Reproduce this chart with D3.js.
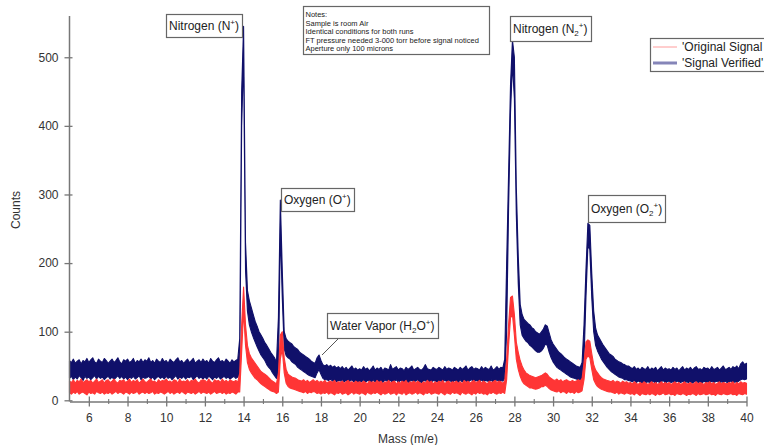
<!DOCTYPE html>
<html><head><meta charset="utf-8">
<script src="https://cdn.jsdelivr.net/npm/d3@7"></script>
<style>
html,body{margin:0;padding:0;background:#fff;}
svg{display:block;font-family:"Liberation Sans",Arial,sans-serif;}
</style></head><body>
<svg id="chart" width="764" height="445"></svg>
<script>
// ---------- DATA (counts per 0.1 m/e from 5.0 to 40.0) ----------
const massStart = 5.0, massStep = 0.1;

// 'Signal Verified' (navy) : lower / upper edge of the noisy trace
const verifiedLow = [
 32,35,30,34,31,36,33,29,35,32, 34,30,33,36,31,35,32,34,30,33, 35,31,34,30,33,36,32,35,31,34,
 30,34,32,35,31,33,36,30,34,32, 33,35,31,34,30,33,35,32,34,31, 35,32,34,30,33,36,31,34,32,35,
 31,34,33,35,30,33,36,32,34,31, 34,31,35,33,30,34,32,35,31,33, 35,32,34,31,33,35,32,34,38,400,
 500,190,130,110,100,92,85,78,72,66, 62,58,52,48,45,40,36,32,35,250, 150,75,65,62,60,56,54,52,48,46,
 44,42,40,38,36,35,34,33,40,45, 38,32,30,30,29,31,28,30,27,29, 28,30,27,29,26,28,30,27,29,26,
 28,27,30,26,29,28,26,30,27,29, 27,29,26,30,28,27,29,26,28,30, 26,29,28,27,30,26,28,29,27,28,
 30,27,26,29,28,30,27,26,29,28, 27,29,28,26,30,27,29,28,26,29, 28,26,30,27,29,28,26,29,30,27,
 29,28,26,30,27,29,28,27,30,26, 28,30,27,29,28,32,100,280,420,490, 440,270,170,110,95,90,86,84,80,78,
 75,72,70,70,72,76,82,80,70,62, 56,52,48,46,44,42,40,38,36,34, 33,32,31,30,30,32,60,150,225,220,
 150,100,80,72,66,60,56,52,48,45, 42,40,38,36,34,33,32,30,30,29, 28,27,29,26,28,27,25,28,26,27,
 26,28,27,25,28,26,27,29,25,27, 28,26,27,25,28,27,26,28,25,27, 26,28,25,27,28,26,27,25,28,26,
 27,25,28,26,27,28,25,27,26,28, 26,27,28,25,27,26,28,30,31,30, 31
];
const verifiedHigh = [
 58,55,60,54,57,59,53,58,56,61, 55,59,62,56,54,60,57,55,61,58, 54,57,60,55,58,62,56,53,59,57,
 60,55,57,61,54,58,56,60,55,59, 57,62,55,58,54,60,57,55,61,56, 58,54,60,57,55,59,62,56,58,54,
 57,60,55,58,61,54,57,59,55,60, 56,58,54,61,57,55,59,62,56,58, 55,60,57,54,59,56,58,60,90,450,
 545,230,160,145,135,125,115,108,100,95, 90,84,80,75,70,66,62,55,120,292, 190,100,90,86,84,82,78,76,74,70,
 68,66,64,62,60,57,55,54,62,66, 58,52,50,52,49,51,48,50,47,49, 46,49,45,48,44,47,50,45,47,44,
 46,44,49,45,47,43,46,50,44,47, 45,48,43,47,46,44,52,45,47,49, 44,47,46,43,48,45,47,50,44,46,
 48,45,44,47,52,46,45,44,48,46, 45,48,46,44,49,45,47,46,44,48, 46,44,48,45,47,50,44,47,49,45,
 47,46,44,49,45,48,46,45,50,44, 46,49,45,48,47,60,200,330,460,525, 500,310,210,140,125,118,115,112,110,106,
 104,100,98,96,100,104,110,108,98,88, 82,78,74,70,68,65,62,60,58,56, 54,52,50,49,48,55,110,190,258,255,
 185,130,105,95,90,85,80,76,72,68, 66,64,60,58,56,55,53,52,50,50, 48,46,49,45,47,44,48,46,45,49,
 44,47,45,48,43,46,49,44,47,45, 46,44,48,45,47,43,46,49,44,47, 45,48,44,47,49,45,46,44,48,46,
 47,44,49,45,46,48,44,47,50,45, 46,48,45,49,47,50,46,53,56,52, 54
];

// 'Original Signal' (red) : lower / upper edge of the noisy trace
const originalLow = [
 11,9,12,10,13,9,11,12,10,8, 12,10,11,9,13,11,10,12,9,11, 10,12,9,11,13,10,12,11,9,12,
 11,9,12,10,11,13,9,11,12,10, 12,10,11,13,9,11,10,12,11,9, 11,13,10,12,9,11,12,10,13,11,
 9,12,11,10,12,9,11,13,10,12, 11,10,12,9,11,13,10,11,12,10, 12,9,11,10,12,11,9,12,12,70,
 130,80,55,45,40,36,32,30,27,24, 22,20,18,16,14,13,12,10,12,60, 75,40,25,20,18,17,16,15,14,13,
 12,11,13,10,12,11,13,12,10,11, 9,11,10,12,9,11,10,8,11,10, 12,9,10,11,8,10,12,9,11,10,
 9,11,10,8,12,10,9,11,10,12, 10,8,11,9,10,12,9,10,11,8, 11,10,9,12,8,10,11,9,10,12,
 9,11,10,8,11,10,12,9,10,11, 10,9,12,10,8,11,10,9,12,10, 11,10,8,12,10,9,11,10,8,11,
 9,12,10,11,9,10,8,11,10,12, 10,9,11,10,12,10,30,80,120,125, 95,60,45,35,28,24,22,20,18,18,
 17,16,17,18,20,20,22,20,17,15, 14,13,12,14,11,13,12,10,13,11, 12,10,13,11,12,14,30,60,65,62,
 45,30,24,20,18,16,15,14,13,12, 12,11,10,12,9,11,10,9,11,10, 9,10,8,11,9,7,10,9,8,10,
 8,10,9,7,10,8,9,11,8,9, 10,8,9,7,10,9,8,10,9,7, 9,8,10,9,7,10,8,9,10,8,
 9,10,8,9,7,10,9,8,10,9, 8,9,10,8,9,7,10,9,8,10, 9
];
const originalHigh = [
 28,26,30,25,29,27,31,26,28,30, 27,29,25,28,31,26,28,30,25,29, 30,26,28,31,27,25,29,28,30,26,
 28,31,26,29,27,30,25,28,31,27, 26,29,31,27,28,25,30,27,29,28, 31,27,28,26,30,29,25,31,27,28,
 27,30,26,29,28,31,27,25,29,30, 29,26,31,27,25,30,28,29,26,31, 27,29,26,30,28,27,29,26,40,110,
 165,110,80,68,62,58,54,50,46,42, 40,38,36,33,30,28,26,24,40,95, 100,62,45,38,36,34,33,32,30,29,
 28,30,27,29,26,28,30,27,29,26, 28,26,29,25,27,28,26,29,25,27, 26,28,25,27,29,26,27,25,28,26,
 27,25,28,26,24,28,26,27,25,29, 26,28,24,27,26,29,25,27,28,24, 27,25,28,26,29,24,27,26,28,25,
 28,26,24,27,25,29,26,28,24,27, 25,28,26,29,24,27,28,25,27,26, 28,25,27,24,29,26,28,25,27,29,
 26,27,29,25,28,26,24,28,26,27, 29,26,28,27,25,28,60,110,150,152, 125,85,70,58,50,44,40,38,36,35,
 34,33,34,35,36,38,40,38,34,32, 30,29,31,28,30,27,29,30,28,27, 29,27,28,30,28,32,55,85,88,86,
 68,52,44,40,36,33,31,30,29,28, 27,29,26,28,27,25,28,26,27,25, 26,24,27,25,23,26,24,27,25,23,
 25,27,24,26,23,25,27,24,26,24, 26,23,25,27,24,26,23,25,27,24, 24,26,23,25,27,24,26,25,23,26,
 25,27,24,26,23,25,27,24,26,25, 24,26,25,27,23,26,24,27,25,26, 25
];

const xMajorTicks = [6,8,10,12,14,16,18,20,22,24,26,28,30,32,34,36,38,40];
const xMinorTicks = [7,9,11,13,15,17,19,21,23,25,27,29,31,33,35,37,39];
const yTicks = [0,100,200,300,400,500];
const seriesNames = ["'Original Signal", "'Signal Verified'"];
const xTitle = "Mass (m/e)";
const yTitle = "Counts";
const notesLines = ["Notes:", "Sample is room Air", "Identical conditions for both runs",
  "FT pressure needed 3-000 torr before signal noticed", "Aperture only 100 microns"];
const peakLabels = [
  {key:"N",   parts:[["Nitrogen (N",""],["+","sup"],[")",""]]},
  {key:"N2",  parts:[["Nitrogen (N",""],["2","sub"],["+","sup"],[")",""]]},
  {key:"O",   parts:[["Oxygen (O",""],["+","sup"],[")",""]]},
  {key:"H2O", parts:[["Water Vapor (H",""],["2","sub"],["O",""],["+","sup"],[")",""]]},
  {key:"O2",  parts:[["Oxygen (O",""],["2","sub"],["+","sup"],[")",""]]}
];
const waterPeak = {mass:17.9, count:66};

// ---------- LAYOUT ----------
const svg = d3.select("#chart");
const x = d3.scaleLinear().domain([5, 40]).range([69.5, 746.5]);
const y = d3.scaleLinear().domain([0, 560]).range([400.3, 16.1]);
const axisY = 401.5;
const axisColor = "#777";

const mass = verifiedLow.map((_, i) => +(massStart + i * massStep).toFixed(1));
const rows = (lo, hi) => mass.map((m, i) => ({m, lo: lo[i], hi: hi[i]}));
const verified = rows(verifiedLow, verifiedHigh);
const original = rows(originalLow, originalHigh);

const area = d3.area().x(d => x(d.m)).y0(d => y(d.lo)).y1(d => y(d.hi));

const navy = "#10106a", red = "#ff3535";
svg.append("path").datum(verified).attr("d", area)
  .attr("fill", navy).attr("stroke", navy).attr("stroke-width", 1.1).attr("stroke-linejoin","round");
svg.append("path").datum(original).attr("d", area)
  .attr("fill", red).attr("stroke", red).attr("stroke-width", 1.1).attr("stroke-linejoin","round");

// ---------- AXES ----------
const gx = svg.append("g").attr("transform", `translate(0,${axisY})`);
gx.call(d3.axisBottom(x).tickValues(xMajorTicks).tickSize(5).tickSizeOuter(0).tickPadding(7));
gx.select(".domain").attr("stroke", axisColor).attr("stroke-width", 1.5);
gx.selectAll(".tick line").attr("y1", -5).attr("y2", 5).attr("stroke", axisColor).attr("stroke-width", 1.3);
gx.selectAll(".tick text").attr("font-size", 12).attr("fill", "#333").attr("font-family", "Liberation Sans, Arial, sans-serif");
const gxm = svg.append("g").attr("transform", `translate(0,${axisY})`);
gxm.call(d3.axisBottom(x).tickValues(xMinorTicks).tickSize(2.5).tickSizeOuter(0).tickFormat(""));
gxm.select(".domain").remove();
gxm.selectAll(".tick line").attr("y1", -2.5).attr("stroke", axisColor).attr("stroke-width", 1.1);

const gy = svg.append("g").attr("transform", `translate(${x(5)},0)`);
gy.call(d3.axisLeft(y).tickValues(yTicks).tickSize(5).tickSizeOuter(0).tickPadding(6));
gy.select(".domain").attr("stroke", axisColor).attr("stroke-width", 1.5).attr("d", `M0,${y(560)}V${axisY}`);
gy.selectAll(".tick line").attr("x1", 3).attr("x2", -5).attr("stroke", axisColor).attr("stroke-width", 1.3);
gy.selectAll(".tick text").attr("font-size", 12).attr("fill", "#333").attr("font-family", "Liberation Sans, Arial, sans-serif");

svg.append("text").attr("transform", "translate(20,210) rotate(-90)").attr("text-anchor", "middle")
  .attr("font-size", 12).attr("fill", "#333").text(yTitle);
svg.append("text").attr("x", 408).attr("y", 443).attr("text-anchor", "middle")
  .attr("font-size", 12).attr("fill", "#333").text(xTitle);

// ---------- ANNOTATIONS ----------
const boxes = {
  N:   {x:166, y:14,  w:76,  h:23},
  N2:  {x:510, y:16,  w:81,  h:25},
  O:   {x:281, y:188, w:73,  h:23},
  H2O: {x:327, y:313, w:111, h:25},
  O2:  {x:588, y:195, w:77,  h:27}
};
peakLabels.forEach(lab => {
  const b = boxes[lab.key];
  svg.append("rect").attr("x", b.x + 0.5).attr("y", b.y + 0.5).attr("width", b.w).attr("height", b.h)
    .attr("fill", "#fff").attr("stroke", "#666").attr("stroke-width", 1.2);
  const t = svg.append("text").attr("x", b.x + 3).attr("y", b.y + b.h / 2 + 4.5)
    .attr("font-size", 12).attr("fill", "#222");
  let off = 0;
  lab.parts.forEach(([txt, kind]) => {
    const target = kind === "sup" ? -5 : kind === "sub" ? 3 : 0;
    t.append("tspan").attr("dy", target - off).attr("font-size", kind ? 8 : 12).text(txt);
    off = target;
  });
});
// pointer for water vapor
const hb = boxes.H2O;
svg.append("line").attr("x1", hb.x + 11).attr("y1", hb.y + hb.h + 1)
  .attr("x2", x(waterPeak.mass) + 3).attr("y2", y(waterPeak.count))
  .attr("stroke", "#555").attr("stroke-width", 1);

// notes
svg.append("rect").attr("x", 303.5).attr("y", 6.5).attr("width", 186).attr("height", 48)
  .attr("fill", "#fff").attr("stroke", "#666").attr("stroke-width", 1.2);
svg.append("g").selectAll("text").data(notesLines).join("text")
  .attr("x", 305.5).attr("y", (d, i) => 17 + i * 8.5).attr("font-size", 7.5).attr("fill", "#222").text(d => d);

// legend
const lg = svg.append("g");
lg.append("rect").attr("x", 650.5).attr("y", 38.5).attr("width", 130).attr("height", 33)
  .attr("fill", "#fff").attr("stroke", "#666").attr("stroke-width", 1.2);
const legendStyles = [{c:"#ff9c9c", w:1}, {c:"#8585b8", w:3}];
seriesNames.forEach((name, i) => {
  const yy = 47 + i * 16;
  lg.append("line").attr("x1", 653).attr("x2", 677).attr("y1", yy).attr("y2", yy)
    .attr("stroke", legendStyles[i].c).attr("stroke-width", legendStyles[i].w);
  lg.append("text").attr("x", 682).attr("y", yy + 4.3).attr("font-size", 12).attr("fill", "#222").text(name);
});
</script>
</body></html>
